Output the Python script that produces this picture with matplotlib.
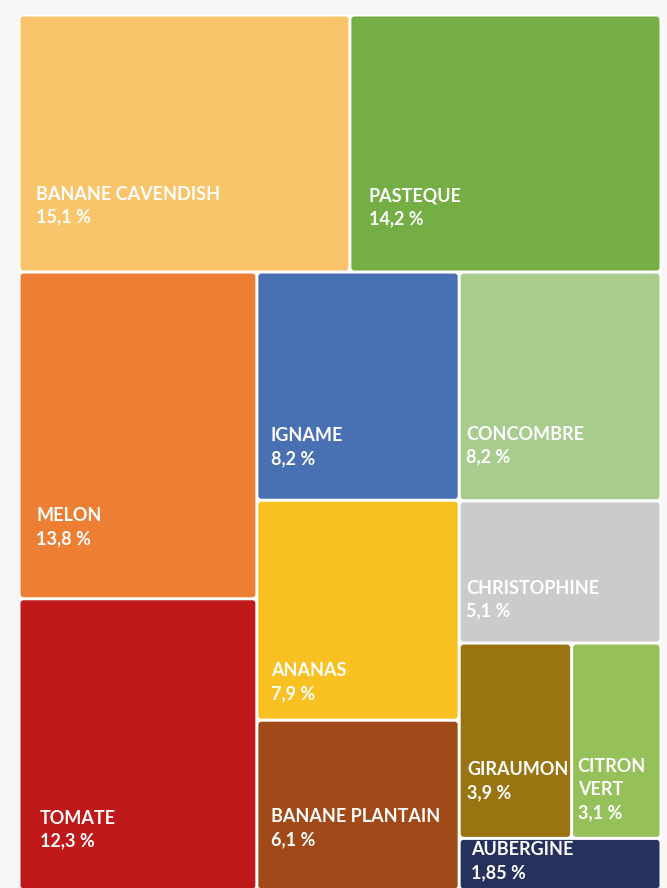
import matplotlib.pyplot as plt
from matplotlib.patches import FancyBboxPatch, Rectangle

# data
names = ["BANANE CAVENDISH", "PASTEQUE", "MELON", "TOMATE", "IGNAME", "ANANAS",
         "BANANE PLANTAIN", "CONCOMBRE", "CHRISTOPHINE", "GIRAUMON", "CITRON\nVERT", "AUBERGINE"]
shares = [15.1, 14.2, 13.8, 12.3, 8.2, 7.9, 6.1, 8.2, 5.1, 3.9, 3.1, 1.85]
colors = ["#f9c46a", "#74ae45", "#ec7f34", "#c0191a", "#4a70b4", "#f8c020",
          "#a04a1a", "#a8cc8e", "#cbcbcb", "#9a7411", "#95c05a", "#27315e"]

# nesting of the treemap: 'v' stacks children top to bottom, 'h' puts them side by side
layout = ('v', [('h', [0, 1]),
                ('h', [('v', [2, 3]),
                       ('v', [4, 5, 6]),
                       ('v', [7, 8, ('h', [9, 10]), 11])])])

# label placement: left offset (px) and height fraction of first line
label_dx = [17, 19, 17, 21, 14, 14, 14, 7, 7, 8, 6, 12]
label_fy = [0.697, 0.705, 0.745, 0.753, 0.718, 0.775, 0.57, 0.709, 0.613, 0.648, 0.632, 0.22]


def total(node):
    if isinstance(node, int):
        return shares[node]
    return sum(total(k) for k in node[1])


def place(node, x, y, w, h, out):
    if isinstance(node, int):
        out[node] = (x, y, w, h)
        return
    d, kids = node
    tot = total(node)
    for k in kids:
        f = total(k) / tot
        if d == 'h':
            place(k, x, y, w * f, h, out)
            x += w * f
        else:
            place(k, x, y, w, h * f, out)
            y += h * f


W, H = 667, 888
fig = plt.figure(figsize=(W / 100, H / 100), dpi=100, facecolor="#f8f7f5")
ax = fig.add_axes([0, 0, 1, 1])
ax.set_xlim(0, W)
ax.set_ylim(H, 0)
ax.axis("off")

x0, y0, x1, y1 = 19, 15, 661, 890
ax.add_patch(Rectangle((x0, y0), x1 - x0, H - y0, color="white", lw=0))

cells = {}
place(layout, x0, y0, x1 - x0, y1 - y0, cells)

g = 1.5
for i, (x, y, w, h) in cells.items():
    ax.add_patch(FancyBboxPatch((x + g, y + g), w - 2 * g, h - 2 * g,
                                boxstyle="round,pad=0,rounding_size=3",
                                fc=colors[i], ec="none"))
    lines = names[i].split("\n") + [f"{shares[i]:g}".replace(".", ",") + " %"]
    ty = y + h * label_fy[i]
    for j, s in enumerate(lines):
        ax.text(x + label_dx[i], ty + 23 * j, s, color="white", fontsize=13,
                family="Lato", fontweight="bold", ha="left", va="center")

fig.savefig("out.png", dpi=100, facecolor=fig.get_facecolor())
